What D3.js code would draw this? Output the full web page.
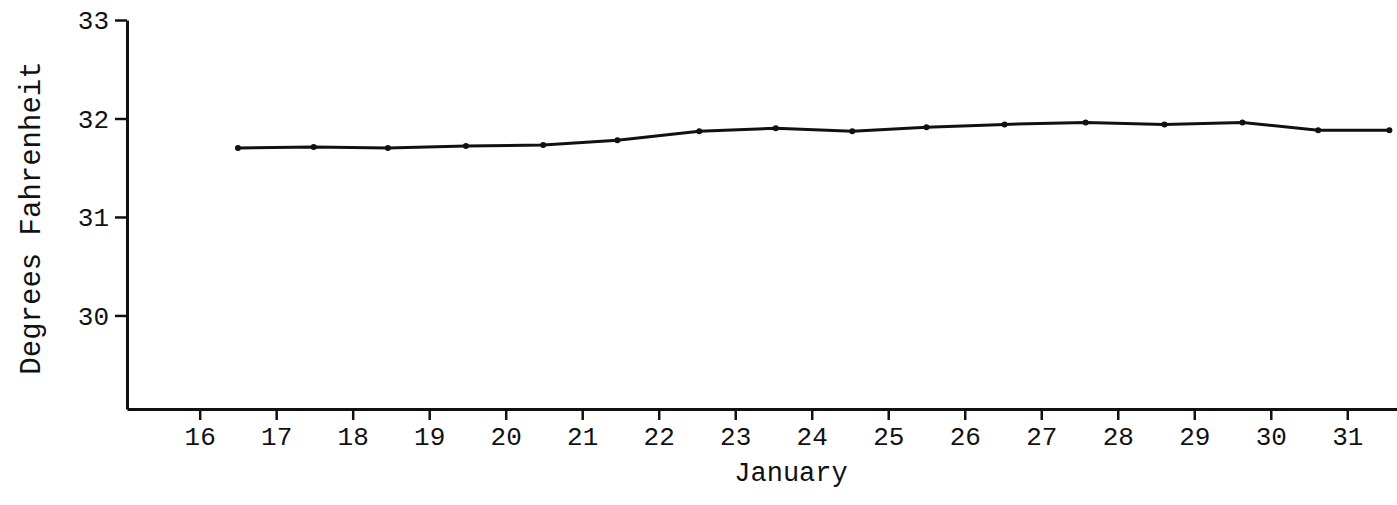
<!DOCTYPE html>
<html>
<head>
<meta charset="utf-8">
<script src="https://cdn.jsdelivr.net/npm/d3@7"></script>
<style>
  body { margin: 0; background: #fff; }
  text { font-family: "Liberation Mono", "DejaVu Sans Mono", monospace; fill: #111; }
</style>
</head>
<body>
<div id="chart"></div>
<script>
// days of January (readings taken around midday)
var days = [16.5, 17.49, 18.46, 19.48, 20.49, 21.46, 22.53, 23.53, 24.53, 25.5, 26.52, 27.58, 28.61, 29.63, 30.62, 31.55];
// temperature, degrees F
var temps = [31.7, 31.71, 31.7, 31.72, 31.73, 31.78, 31.87, 31.9, 31.87, 31.91, 31.94, 31.96, 31.94, 31.96, 31.88, 31.88];
var dayTicks = [16, 17, 18, 19, 20, 21, 22, 23, 24, 25, 26, 27, 28, 29, 30, 31];
var tempTicks = [30, 31, 32, 33];

var width = 1397, height = 505;

var svg = d3.select("#chart").append("svg")
  .attr("width", width)
  .attr("height", height);

// x: 16 sits near 200px, about 76.5px per day
var x = d3.scaleLinear().domain([15.05, 31.65]).range([127, 1397]);
var y = d3.scaleLinear().domain([29.05, 33]).range([409, 20]);

var data = days.map(function (d, i) { return { day: d, temp: temps[i] }; });

// axes
var xAxis = d3.axisBottom(x).tickValues(dayTicks).tickFormat(d3.format("d"))
  .tickSize(11).tickSizeOuter(0).tickPadding(7);
var yAxis = d3.axisLeft(y).tickValues(tempTicks).tickFormat(d3.format("d"))
  .tickSize(12).tickSizeOuter(0).tickPadding(6);

var gx = svg.append("g").attr("transform", "translate(0,409)").call(xAxis);
var gy = svg.append("g").attr("transform", "translate(127,0)").call(yAxis);

[gx, gy].forEach(function (g) {
  g.select(".domain").attr("stroke", "#111").attr("stroke-width", 3);
  g.selectAll(".tick line").attr("stroke", "#111").attr("stroke-width", 2.5);
  g.selectAll(".tick text").style("font-size", "26px").attr("fill", "#111");
});
gy.selectAll(".tick text").attr("dy", "0.34em");

// line
var line = d3.line()
  .x(function (d) { return x(d.day); })
  .y(function (d) { return y(d.temp); });

svg.append("path")
  .datum(data)
  .attr("d", line)
  .attr("fill", "none")
  .attr("stroke", "#111")
  .attr("stroke-width", 3);

svg.selectAll("circle.pt")
  .data(data)
  .enter()
  .append("circle")
  .attr("class", "pt")
  .attr("cx", function (d) { return x(d.day); })
  .attr("cy", function (d) { return y(d.temp); })
  .attr("r", 3)
  .attr("fill", "#111");

// axis titles
svg.append("text")
  .attr("x", 791)
  .attr("y", 481)
  .attr("text-anchor", "middle")
  .style("font-size", "27px")
  .text("January");

svg.append("text")
  .attr("transform", "translate(40,218) rotate(-90)")
  .attr("text-anchor", "middle")
  .style("font-size", "29px")
  .text("Degrees Fahrenheit");
</script>
</body>
</html>
